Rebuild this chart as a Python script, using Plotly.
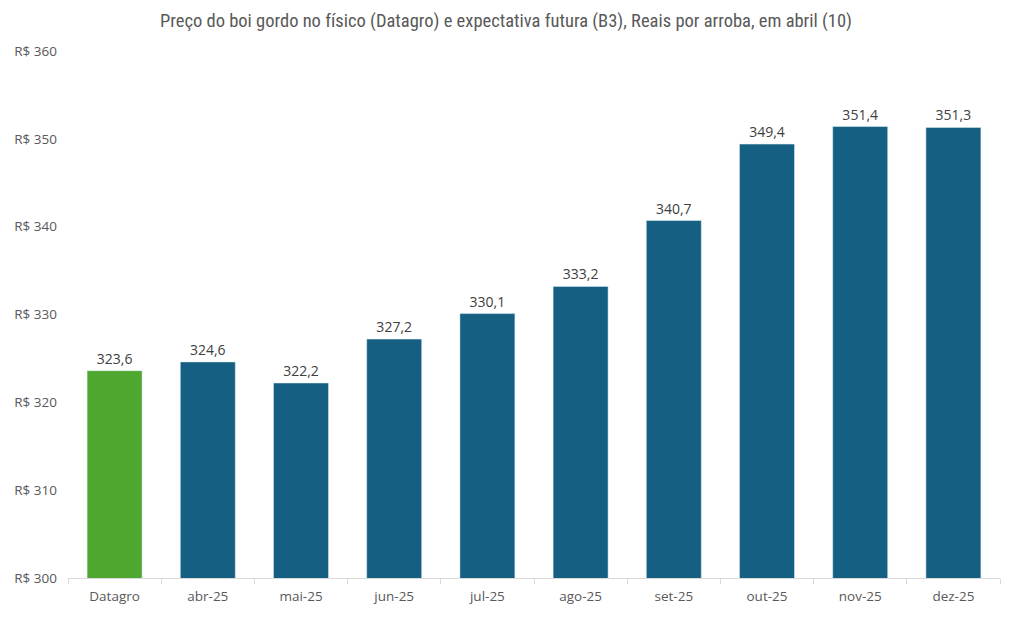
import plotly.graph_objects as go

categories = ["Datagro", "abr-25", "mai-25", "jun-25", "jul-25", "ago-25", "set-25", "out-25", "nov-25", "dez-25"]
values = [323.6, 324.6, 322.2, 327.2, 330.1, 333.2, 340.7, 349.4, 351.4, 351.3]
bar_colors = ["#4EA72E"] + ["#156082"] * 9
y_ticks = [300, 310, 320, 330, 340, 350, 360]
y_tick_labels = ["R$ 300", "R$ 310", "R$ 320", "R$ 330", "R$ 340", "R$ 350", "R$ 360"]
title = "Preço do boi gordo no físico (Datagro) e expectativa futura (B3), Reais por arroba, em abril (10)"

fig = go.Figure(go.Bar(
    x=categories, y=values, marker_color=bar_colors, width=0.59,
    text=[f"{v:.1f}".replace(".", ",") for v in values],
    textposition="outside", cliponaxis=False,
    textfont=dict(size=14, color="#404040", family="Open Sans"),
))
fig.update_layout(
    width=1012, height=629,
    margin=dict(l=68, r=12, t=51, b=51),
    paper_bgcolor="white", plot_bgcolor="white",
    title=dict(text=title, x=0.5, xanchor="center", y=0.967, yanchor="middle",
               font=dict(size=18.5, color="#595959", family="Liberation Sans Narrow, Arial Narrow, Roboto Condensed, sans-serif")),
    showlegend=False,
    font=dict(family="Open Sans", color="#595959", size=13),
    bargap=0.41,
)
fig.update_xaxes(showline=True, linecolor="#D9D9D9", linewidth=1, ticks="outside",
                 tickson="boundaries", ticklen=5, tickcolor="#D9D9D9",
                 ticklabelstandoff=6,
                 tickfont=dict(size=13.5, color="#595959"), showgrid=False)
fig.update_yaxes(range=[300, 360], tickvals=y_ticks, ticktext=y_tick_labels, showgrid=False,
                 zeroline=False, showline=False, ticklabelstandoff=10,
                 tickfont=dict(size=13.5, color="#595959"))
fig.write_html("out.html")
